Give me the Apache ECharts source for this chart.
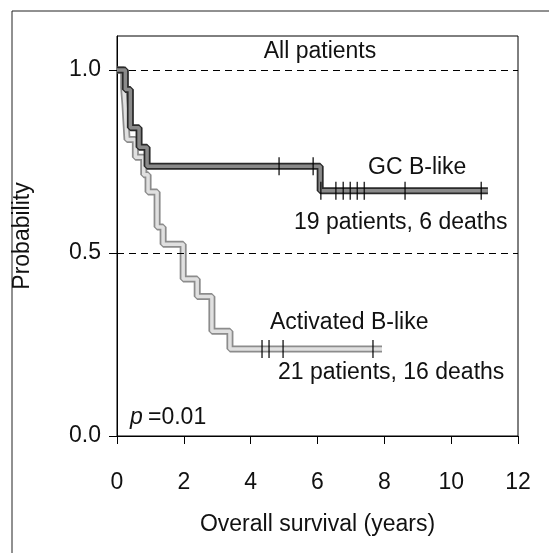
<!DOCTYPE html>
<html>
<head>
<meta charset="utf-8">
<script src="https://cdn.jsdelivr.net/npm/echarts@6/dist/echarts.min.js"></script>
<style>
html, body { margin: 0; padding: 0; background: #fff; }
#chart { width: 549px; height: 553px; }
</style>
</head>
<body>
<div id="chart"></div>
<script>
// Kaplan-Meier steps: [years, survival probability]
var gcSteps = [[0, 1.0], [0.25, 0.947], [0.4, 0.842], [0.66, 0.789], [0.9, 0.737], [6.08, 0.67], [11.1, 0.67]]
var actSteps = [[0, 1.0], [0.2, 0.952], [0.24, 0.905], [0.27, 0.857], [0.3, 0.81], [0.55, 0.762], [0.8, 0.714],
  [0.93, 0.667], [1.2, 0.571], [1.38, 0.524], [1.98, 0.429], [2.4, 0.381], [2.84, 0.286], [3.38, 0.238], [7.93, 0.238]]
// censored patients (years)
var gcCensored = [4.85, 5.87, 6.1, 6.55, 6.77, 6.98, 7.19, 7.4, 8.62, 10.9]
var actCensored = [4.34, 4.55, 4.97, 7.66]
var xTicks = [0, 2, 4, 6, 8, 10, 12]
var yTicks = [0, 0.5, 1.0]
var refLines = [1.0, 0.5]

var FONT = '"Liberation Sans", Arial, Helvetica, sans-serif'
var FS = 23

function levelAt (steps, t) {
  var v = steps[0][1]
  steps.forEach(function (s) { if (s[0] <= t) v = s[1] })
  return v
}
function censorPoints (steps, times) {
  return times.map(function (t) { return [t, levelAt(steps, t)] })
}

var chart = echarts.init(document.getElementById('chart'))
chart.setOption({
  animation: false,
  grid: { left: 117, right: 31, top: 36, bottom: 117, show: true, borderColor: '#000', borderWidth: 1 },
  xAxis: {
    type: 'value', min: 0, max: 12, interval: 2,
    axisLine: { show: true, lineStyle: { color: '#000', width: 1 } },
    axisTick: { show: true, length: 8, customValues: xTicks, lineStyle: { color: '#000' } },
    axisLabel: { margin: 35, fontSize: FS, color: '#111', fontFamily: FONT, customValues: xTicks },
    splitLine: { show: false },
    name: 'Overall survival (years)',
    nameLocation: 'middle',
    nameGap: 77,
    nameTextStyle: { fontSize: FS, color: '#111', fontFamily: FONT }
  },
  yAxis: {
    type: 'value', min: 0, max: 1.093,
    axisLine: { show: true, lineStyle: { color: '#000', width: 1 } },
    axisTick: { show: true, length: 8, customValues: yTicks, lineStyle: { color: '#000' } },
    axisLabel: {
      margin: 16, fontSize: FS, color: '#111', fontFamily: FONT, customValues: yTicks,
      formatter: function (v) { return v.toFixed(1) }
    },
    splitLine: { show: false },
    name: 'Probability',
    nameLocation: 'middle',
    nameGap: 83,
    nameTextStyle: { fontSize: FS, color: '#111', fontFamily: FONT }
  },
  series: [
    {
      type: 'line', step: 'end', data: actSteps, showSymbol: false, z: 2,
      lineStyle: { color: '#8c8c8c', width: 7 },
      markLine: {
        silent: true, symbol: ['none', 'none'], label: { show: false },
        lineStyle: { color: '#000', type: [7, 5], width: 1.2 },
        data: refLines.map(function (v) { return { yAxis: v } })
      }
    },
    { type: 'line', step: 'end', data: actSteps, showSymbol: false, z: 3, lineStyle: { color: '#e0e0e0', width: 3.5 } },
    { type: 'line', step: 'end', data: gcSteps, showSymbol: false, z: 4, lineStyle: { color: '#2a2a2a', width: 7 } },
    { type: 'line', step: 'end', data: gcSteps, showSymbol: false, z: 5, lineStyle: { color: '#8a8a8a', width: 3.5 } },
    {
      type: 'scatter', data: censorPoints(gcSteps, gcCensored), symbol: 'rect', symbolSize: [1.5, 18], z: 6,
      itemStyle: { color: '#000' }
    },
    {
      type: 'scatter', data: censorPoints(actSteps, actCensored), symbol: 'rect', symbolSize: [1.5, 18], z: 6,
      itemStyle: { color: '#000' }
    }
  ],
  graphic: [
    { type: 'rect', shape: { x: 12, y: 11, width: 600, height: 600 }, style: { fill: 'none', stroke: '#222', lineWidth: 1 }, silent: true },
    { type: 'text', x: 320, y: 52, style: { text: 'All patients', font: FS + 'px ' + FONT, fill: '#111', align: 'center', verticalAlign: 'middle' } },
    { type: 'text', x: 368, y: 168, style: { text: 'GC B-like', font: FS + 'px ' + FONT, fill: '#111', verticalAlign: 'middle' } },
    { type: 'text', x: 294, y: 223, style: { text: '19 patients, 6 deaths', font: FS + 'px ' + FONT, fill: '#111', verticalAlign: 'middle' } },
    { type: 'text', x: 270, y: 323, style: { text: 'Activated B-like', font: FS + 'px ' + FONT, fill: '#111', verticalAlign: 'middle' } },
    { type: 'text', x: 278, y: 373, style: { text: '21 patients, 16 deaths', font: FS + 'px ' + FONT, fill: '#111', verticalAlign: 'middle' } },
    { type: 'text', x: 130, y: 418, style: { text: 'p', font: 'italic ' + FS + 'px ' + FONT, fill: '#111', verticalAlign: 'middle' } },
    { type: 'text', x: 148, y: 418, style: { text: '=0.01', font: FS + 'px ' + FONT, fill: '#111', verticalAlign: 'middle' } }
  ]
})
</script>
</body>
</html>
